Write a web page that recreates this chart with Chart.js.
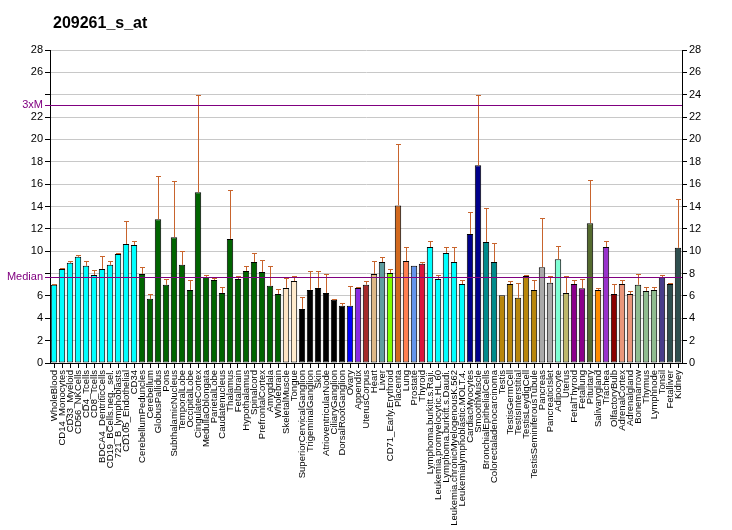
<!DOCTYPE html>
<html lang="en">
<head>
    <meta charset="UTF-8">
    <title>209261_s_at</title>
    <style>
        body { margin: 0; background: #fff; }
        #chartContainer { width: 732px; height: 530px; }
    </style>
</head>
<body>

<div id="chartContainer">
    <canvas id="exprChart"></canvas>
</div>

<script src="https://cdn.jsdelivr.net/npm/chart.js"></script>
<script>
    // Tissue names (x categories)
    const tissues = [
        'WholeBlood', 'CD14_Monocytes', 'CD33_Myeloid', 'CD56_NKCells', 'CD4_Tcells', 'CD8_Tcells',
        'BDCA4_DentriticCells', 'CD19_BCells.neg._sel.', '721_B_lymphoblasts', 'CD105_Endothelial', 'CD34',
        'CerebellumPeduncles', 'Cerebellum', 'GlobusPallidus', 'Pons', 'SubthalamicNucleus', 'TemporalLobe',
        'OccipitalLobe', 'CingulateCortex', 'MedullaOblongata', 'ParietalLobe', 'Caudatenucleus', 'Thalamus',
        'Fetalbrain', 'Hypothalamus', 'Spinalcord', 'PrefrontalCortex', 'Amygdala', 'Wholebrain',
        'SkeletalMuscle', 'Tongue', 'SuperiorCervicalGanglion', 'TrigeminalGanglion', 'Skin',
        'AtrioventricularNode', 'CiliaryGanglion', 'DorsalRootGanglion', 'Ovary', 'Appendix', 'UterusCorpus',
        'Heart', 'Liver', 'CD71_Early.Erythroid', 'Placenta', 'Lung', 'Prostate', 'Thyroid',
        'Lymphoma.burkitt.s.Raji.', 'Leukemia.promyelocytic.HL.60', 'Lymphoma.burkitt.s.Daudi.',
        'Leukemia.chronicMyelogenousK.562', 'Leukemialymphoblastic.MOLT.4.', 'CardiacMyocytes', 'SmoothMuscle',
        'BronchialEpithelialCells', 'Colorectaladenocarcinoma', 'Testis', 'TestisGermCell', 'TestisInterstitial',
        'TestisLeydigCell', 'TestisSeminiferousTubule', 'Pancreas', 'PancreaticIslet', 'Adipocyte', 'Uterus',
        'FetalThyroid', 'Fetallung', 'Pituitary', 'Salivarygland', 'Trachea', 'OlfactoryBulb', 'AdrenalCortex',
        'Adrenalgland', 'Bonemarrow', 'Thymus', 'Lymphnode', 'Tonsil', 'Fetalliver', 'Kidney'
    ];

    // Expression values (bar heights)
    const values = [
        7.0, 8.42, 8.96, 9.5, 8.69, 7.88, 8.42, 8.78, 9.76, 10.65, 10.56,
        7.97, 5.74, 12.86, 7.0, 11.25, 8.78, 6.54, 15.27, 7.7, 7.43, 6.27, 11.1,
        7.52, 8.24, 9.04, 8.15, 6.9, 6.18,
        6.72, 7.34, 4.84, 6.54, 6.72, 6.27, 5.65, 5.12, 5.12, 6.72, 7.0,
        7.97, 9.04, 8.06, 14.1, 9.13, 8.69, 8.87,
        10.38, 7.52, 9.85, 9.04, 7.07, 11.55, 17.68,
        10.83, 9.04, 6.07, 7.07, 5.83, 7.79, 6.54, 8.57, 7.17, 9.28, 6.27,
        7.07, 6.69, 12.5, 6.54, 10.38, 6.18, 7.07, 6.18, 7.0, 6.45, 6.54, 7.7, 7.07, 10.3
    ];

    // Upper end of the error bars
    const errorTop = [
        7.1, 8.5, 9.1, 9.7, 9.1, 8.35, 9.6, 9.1, 9.85, 12.7, 10.9,
        8.6, 6.2, 16.7, 7.5, 16.28, 10.0, 7.45, 24.0, 7.88, 7.6, 6.8, 15.45,
        7.8, 8.7, 9.85, 9.22, 8.69, 6.63,
        7.6, 7.8, 5.9, 8.24, 8.24, 7.97, 5.74, 5.38, 6.9, 6.8, 7.34,
        9.1, 9.5, 8.42, 19.55, 10.38, 8.69, 9.04,
        10.9, 7.88, 10.38, 10.38, 7.43, 13.48, 24.0,
        13.87, 10.7, 6.07, 7.34, 7.17, 7.88, 7.43, 12.97, 7.79, 10.47, 7.79,
        7.43, 7.52, 16.37, 6.72, 10.9, 7.07, 7.43, 6.45, 7.97, 6.8, 6.8, 7.88, 7.17, 14.67
    ];

    // Reference lines
    const medianValue = 7.68;
    const threeXM = 23.04;
    const yTicksMax = 28;

    const barColors = [
        ...Array(11).fill('#00FFFF'),
        ...Array(18).fill('#006400'),
        '#FFE4C4', '#FFEBCD',
        ...Array(6).fill('#000000'),
        '#0000FF', '#8A2BE2', '#A52A2A', '#DEB887', '#5F9EA0', '#7FFF00', '#D2691E', '#FF7F50', '#6495ED', '#DC143C',
        ...Array(5).fill('#00FFFF'),
        '#00008B', '#00008B', '#008B8B', '#008B8B',
        ...Array(5).fill('#B8860B'),
        '#A9A9A9', '#A9A9A9', '#7FFFD4', '#BDB76B', '#8B008B', '#8B008B', '#556B2F', '#FF8C00', '#9932CC', '#8B0000',
        '#E9967A', '#E9967A', '#8FBC8F', '#8FBC8F', '#8FBC8F', '#483D8B', '#2F4F4F', '#2F4F4F'
    ];

    const purple = '#800080';
    const isRef = v => v === medianValue || v === threeXM;

    Chart.defaults.font.family = '"Liberation Sans", Arial, sans-serif';
    Chart.defaults.color = '#000';

    // title, error bars and reference lines over the bars
    const extras = {
        id: 'extras',
        afterDatasetsDraw(chart) {
            const ctx = chart.ctx;
            const y = chart.scales.y;
            const area = chart.chartArea;
            const meta = chart.getDatasetMeta(0);
            ctx.save();
            ctx.strokeStyle = '#C8642D';
            ctx.lineWidth = 1;
            meta.data.forEach((bar, i) => {
                if (errorTop[i] <= values[i]) return;
                const x = Math.round(bar.x) + 0.5;
                const yTop = Math.round(y.getPixelForValue(errorTop[i])) + 0.5;
                const yBase = y.getPixelForValue(values[i]);
                ctx.beginPath();
                ctx.moveTo(x, yBase);
                ctx.lineTo(x, yTop);
                ctx.moveTo(x - 2.5, yTop);
                ctx.lineTo(x + 2.5, yTop);
                ctx.stroke();
            });
            ctx.strokeStyle = purple;
            [medianValue, threeXM].forEach(v => {
                const py = Math.round(y.getPixelForValue(v)) + 0.5;
                ctx.beginPath();
                ctx.moveTo(area.left, py);
                ctx.lineTo(area.right, py);
                ctx.stroke();
            });
            ctx.restore();
        },
        afterDraw(chart) {
            const ctx = chart.ctx;
            ctx.save();
            ctx.fillStyle = '#000';
            ctx.font = 'bold 16px "Liberation Sans", Arial, sans-serif';
            ctx.textBaseline = 'alphabetic';
            ctx.fillText('209261_s_at', 53, 28);
            ctx.restore();
        }
    };

    new Chart(document.getElementById('exprChart'), {
        type: 'bar',
        data: {
            labels: tissues,
            datasets: [{
                data: values,
                backgroundColor: barColors,
                borderColor: '#000',
                borderWidth: 1,
                borderSkipped: false,
                barPercentage: 0.8,
                categoryPercentage: 1.0,
                yAxisID: 'y'
            }]
        },
        options: {
            responsive: true,
            maintainAspectRatio: false,
            animation: false,
            layout: { padding: { top: 50, left: 0, right: 0, bottom: 0 } },
            plugins: {
                legend: { display: false },
                tooltip: { enabled: false }
            },
            scales: {
                x: {
                    grid: { drawOnChartArea: false, offset: false, tickLength: 5, tickColor: '#000' },
                    border: { color: '#000' },
                    ticks: { minRotation: 90, maxRotation: 90, autoSkip: false, padding: 2, font: { size: 9.5 } },
                    afterFit: s => { s.height = 167; }
                },
                y: {
                    position: 'left',
                    min: 0,
                    max: yTicksMax,
                    border: { color: '#000' },
                    grid: {
                        tickLength: 5,
                        color: c => (c.tick && isRef(c.tick.value)) ? purple : '#C8C8C8',
                        tickColor: c => (c.tick && isRef(c.tick.value)) ? purple : '#000'
                    },
                    ticks: {
                        stepSize: 2,
                        autoSkip: false,
                        padding: 2,
                        font: { size: 11 },
                        color: c => (c.tick && isRef(c.tick.value)) ? purple : '#000',
                        callback: v => {
                            if (v === medianValue) return 'Median';
                            if (v === threeXM) return '3xM';
                            if (v === 24 || v === 8) return '';
                            return v;
                        }
                    },
                    afterBuildTicks: s => {
                        s.ticks.push({ value: medianValue }, { value: threeXM });
                        s.ticks.sort((a, b) => a.value - b.value);
                    },
                    afterFit: s => { s.width = 50; }
                },
                y2: {
                    position: 'right',
                    min: 0,
                    max: yTicksMax,
                    border: { color: '#000' },
                    grid: { drawOnChartArea: false, tickLength: 5, tickColor: '#000' },
                    ticks: { stepSize: 2, autoSkip: false, padding: 2, font: { size: 11 } },
                    afterFit: s => { s.width = 50; }
                }
            }
        },
        plugins: [extras]
    });
</script>

</body>
</html>
